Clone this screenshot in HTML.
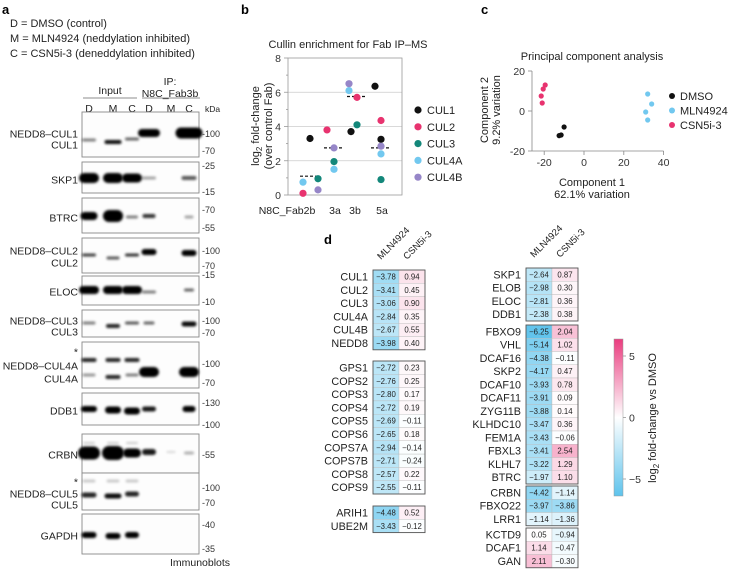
<!DOCTYPE html>
<html><head><meta charset="utf-8">
<style>
html,body{margin:0;padding:0;background:#fff;}
svg{display:block;font-family:"Liberation Sans",sans-serif;}
</style></head>
<body>
<svg id="fig" width="729" height="569" viewBox="0 0 729 569" xmlns="http://www.w3.org/2000/svg">
<defs>
<filter id="blur1" x="-50%" y="-100%" width="200%" height="300%"><feGaussianBlur stdDeviation="1.4"/></filter>
<linearGradient id="cbar" x1="0" y1="0" x2="0" y2="1">
<stop offset="0" stop-color="#ea3d7f"/><stop offset="0.5" stop-color="#ffffff"/><stop offset="1" stop-color="#5ec3ec"/>
</linearGradient>
</defs>
<text x="2" y="14" font-size="13" font-weight="bold">a</text>
<text x="241" y="14" font-size="13" font-weight="bold">b</text>
<text x="481" y="14" font-size="13" font-weight="bold">c</text>
<text x="324" y="244" font-size="13" font-weight="bold">d</text>

<g font-size="11" fill="#222">
<text x="10" y="27">D = DMSO (control)</text>
<text x="10" y="42">M = MLN4924 (neddylation inhibited)</text>
<text x="10" y="57">C = CSN5i-3 (deneddylation inhibited)</text>
</g>

<g id="blots"></g>
<g id="chartB"></g>
<g id="chartC"></g>
<g id="heatD"></g>
</svg>
<script>
const NS='http://www.w3.org/2000/svg';
function mk(tag,attrs,parent,txt){const e=document.createElementNS(NS,tag);for(const k in attrs)e.setAttribute(k,attrs[k]);if(txt!==undefined)e.textContent=txt;parent.appendChild(e);return e;}

/* ---------------- Panel a: blots ---------------- */
const blotG=document.getElementById('blots');
const laneX=[89,113,132,149,171,189];
const laneLetters=['D','M','C','D','M','C'];
laneLetters.forEach((l,i)=>{const t=mk('text',{x:laneX[i],y:112,'font-size':10.5,'text-anchor':'middle',fill:'#222'},blotG,l);

});
mk('text',{x:110,y:94,'font-size':10.5,'text-anchor':'middle',fill:'#222'},blotG,'Input');
mk('line',{x1:83,y1:98,x2:137,y2:98,stroke:'#666','stroke-width':0.8},blotG);
mk('text',{x:170,y:85,'font-size':10.5,'text-anchor':'middle',fill:'#222'},blotG,'IP:');
mk('text',{x:170,y:97,'font-size':10.5,'text-anchor':'middle',fill:'#222'},blotG,'N8C_Fab3b');
mk('line',{x1:142,y1:98,x2:200,y2:98,stroke:'#666','stroke-width':0.8},blotG);
mk('text',{x:205,y:112,'font-size':8.5,fill:'#222'},blotG,'kDa');
mk('text',{x:200,y:566,'font-size':10.5,'text-anchor':'middle',fill:'#222'},blotG,'Immunoblots');
const blotPanels=[
 {t:112,b:157,lab:[['NEDD8–CUL1',134],['CUL1',145]],kda:[['-100',134],['-70',151]],
  bands:[[0,140,14,3,0.5],[1,142,17,4,0.95],[2,139,14,3,0.6],[3,133,22,8,1],[5,133,27,11,1]]},
 {t:162,b:193,lab:[['SKP1',180]],kda:[['-25',166],['-15',192]],
  bands:[[0,178,20,10,1],[1,178,20,10,1],[2,178,20,9,1],[3,178,14,3,0.35],[5,178,15,4,0.65]]},
 {t:198,b:233,lab:[['BTRC',218]],kda:[['-70',210],['-55',228]],
  bands:[[0,216,17,8,1],[1,216,20,12,1],[2,217,12,3,0.5],[3,216,13,4,0.8],[5,217,9,3,0.35]]},
 {t:238,b:273,lab:[['NEDD8–CUL2',251],['CUL2',263]],kda:[['-100',251],['-70',266]],
  bands:[[0,255,14,3,0.75],[1,258,13,3,0.65],[2,255,14,3,0.8],[3,252,15,6,1],[5,253,15,6,1]]},
 {t:276,b:305,lab:[['ELOC',292]],kda:[['-15',275],['-10',302]],
  bands:[[0,290,20,8,1],[1,290,20,8,1],[2,290,20,8,1],[3,292,14,3,0.5],[5,290,10,3,0.6]]},
 {t:310,b:337,lab:[['NEDD8–CUL3',321],['CUL3',332]],kda:[['-100',321],['-70',333]],
  bands:[[0,323,13,3,0.5],[1,326,14,4,0.85],[2,323,14,3,0.65],[3,323,11,3,0.6],[5,324,15,5,0.95]]},
 {t:342,b:388,lab:[['*',352],['NEDD8–CUL4A',366],['CUL4A',379]],kda:[['-100',364],['-70',383]],
  bands:[[0,360,15,4,0.85],[1,360,15,4,0.85],[2,360,15,4,0.85],[0,375,13,3,0.4],[1,377,15,4,0.85],[2,375,13,3,0.5],[3,372,20,10,1],[5,372,20,10,1]]},
 {t:393,b:425,lab:[['DDB1',411]],kda:[['-130',403],['-100',425]],
  bands:[[0,409,16,6,1],[1,410,16,7,1],[2,411,16,7,1],[3,409,14,5,0.9],[5,409,13,6,1]]},
 {t:434,b:473,lab:[['CRBN',455]],kda:[['-55',455]],
  bands:[[0,443,12,2,0.2],[1,443,12,2,0.2],[2,443,12,2,0.2],[0,453,22,13,1],[1,453,22,14,1],[2,453,18,9,1],[3,452,14,6,0.9],[4,452,9,2,0.15],[5,453,10,3,0.3]]},
 {t:473,b:510,lab:[['*',482],['NEDD8–CUL5',494],['CUL5',505]],kda:[['-100',488],['-70',503]],
  bands:[[0,481,13,3,0.2],[1,481,13,3,0.2],[2,481,13,3,0.2],[0,495,15,5,0.85],[1,496,17,5,0.95],[2,494,14,5,0.85]]},
 {t:514,b:554,lab:[['GAPDH',536]],kda:[['-40',525],['-35',549]],
  bands:[[0,535,15,6,1],[1,536,15,6,1],[2,535,14,6,1]]}
];
blotPanels.forEach((p,pi)=>{
  const g=mk('g',{},blotG);
  
  
  mk('rect',{x:82,y:p.t,width:117,height:p.b-p.t,fill:'#fdfdfd',stroke:'#888','stroke-width':0.9},g);
  p.bands.forEach(b=>{mk('rect',{x:laneX[b[0]]-b[2]/2,y:b[1]-b[3]/2,width:b[2],height:b[3],rx:b[3]/2,fill:'#000',opacity:b[4],filter:'url(#blur1)'},g);});
  p.lab.forEach(l=>mk('text',{x:78,y:l[1]+3.5,'font-size':10.5,'text-anchor':'end',fill:'#222'},g,l[0]));
  p.kda.forEach(k=>mk('text',{x:202,y:k[1]+3,'font-size':9,fill:'#333'},g,k[0]));
});

/* ---------------- Panel b ---------------- */
const bCategories=['N8C_Fab2b','3a','3b','5a'];
const bSeries=['CUL1','CUL2','CUL3','CUL4A','CUL4B'];
const bCUL1=[3.3,3.7,6.35,3.25];
const bCUL2=[0.1,3.8,5.7,4.35];
const bCUL3=[0.95,1.95,4.1,0.9];
const bCUL4A=[0.75,1.5,6.1,2.4];
const bCUL4B=[0.3,2.75,6.5,2.85];
const bMedians=[1.1,2.75,5.75,2.75];
const bYTicks=[0,2,4,6,8];
(function(){
 const G=document.getElementById('chartB');
 const colors=['#111','#e8336f','#13877a','#72c8ef','#9686c8'];
 const vals=[bCUL1,bCUL2,bCUL3,bCUL4A,bCUL4B];
 const X0=288,X1=402,Y0=195,Y1=58;
 const y=v=>Y0-(v/8)*(Y0-Y1);
 const cx=[310,334,357,381];
 const jit=[[0,-7,8,-7,8],[17,-7,0,0,0],[18,0,0,-8,-8],[0,0,0,0,0]];
 mk('text',{x:348,y:48,'font-size':11,'text-anchor':'middle',fill:'#222'},G,'Cullin enrichment for Fab IP–MS');
 bYTicks.forEach(t=>{
  if(t>0&&t<8) mk('line',{x1:X0,x2:X1,y1:y(t),y2:y(t),stroke:'#ccc','stroke-width':0.8},G);
  mk('line',{x1:X0-4,x2:X0,y1:y(t),y2:y(t),stroke:'#999','stroke-width':0.8},G);
  const tl=mk('text',{x:X0-7,y:y(t)+4,'font-size':10.5,'text-anchor':'end',fill:'#333'},G,t);
  
  
 });
 mk('rect',{x:X0,y:Y1,width:X1-X0,height:Y0-Y1,fill:'none',stroke:'#999','stroke-width':0.8},G);
 for(let t=1;t<8;t+=2) mk('line',{x1:X0-2,x2:X0,y1:y(t),y2:y(t),stroke:'#999','stroke-width':0.8},G);
 const yl=mk('text',{transform:'translate(259,126) rotate(-90)','font-size':11,'text-anchor':'middle',fill:'#222'},G);
 yl.innerHTML='log<tspan font-size="8" dy="3">2</tspan><tspan dy="-3"> fold-change</tspan>';
 
 
 mk('text',{transform:'translate(272,126) rotate(-90)','font-size':11,'text-anchor':'middle',fill:'#222'},G,'(over control Fab)');
 const lx=[287,335,355,382];
 bCategories.forEach((c,i)=>{
  const t=mk('text',{x:lx[i],y:214,'font-size':10.5,'text-anchor':'middle',fill:'#222'},G,c);
  
  
  const m=mk('line',{x1:cx[i]-10,x2:cx[i]+10,y1:y(bMedians[i]),y2:y(bMedians[i]),stroke:'#111','stroke-width':1.2,'stroke-dasharray':'3,2'},G);
  
  
 });
 vals.forEach((arr,s)=>arr.forEach((v,i)=>{
  const p=mk('circle',{cx:cx[i]+jit[i][s],cy:y(v),r:3.6,fill:colors[s]},G);
  
  
 }));
 bSeries.forEach((s,i)=>{
  const yy=110+i*16.8;
  const g=mk('g',{},G);
  
  
  mk('circle',{cx:418,cy:yy,r:3.6,fill:colors[i]},g);
  mk('text',{x:427,y:yy+4,'font-size':11,fill:'#222'},g,s);
 });
})();

/* ---------------- Panel c ---------------- */
const cGroups=['DMSO','MLN4924','CSN5i-3'];
const cDMSOx=[-10,-11.5,-12.5];
const cDMSOy=[-8,-12,-12.3];
const cMLNx=[32,34,31,32];
const cMLNy=[8.5,3.5,-0.5,-4.5];
const cCSNx=[-19.5,-20.5,-21.5,-21];
const cCSNy=[13,11,7.5,4];
const cXTicks=[-20,0,20,40];
const cYTicks=[-20,0,20];
(function(){
 const G=document.getElementById('chartC');
 const colors=['#111','#72c8ef','#e8336f'];
 const X=v=>584+v*1.99;
 const Y=v=>111-v*2;
 mk('text',{x:592,y:60,'font-size':11,'text-anchor':'middle',fill:'#222'},G,'Principal component analysis');
 mk('line',{x1:532,x2:532,y1:Y(20),y2:Y(-20),stroke:'#888','stroke-width':0.8},G);
 mk('line',{x1:532,x2:X(40),y1:Y(-20),y2:Y(-20),stroke:'#888','stroke-width':0.8},G);
 cYTicks.forEach(t=>{mk('line',{x1:528,x2:532,y1:Y(t),y2:Y(t),stroke:'#888','stroke-width':0.8},G);
  const tl=mk('text',{x:525,y:Y(t)+4,'font-size':10.5,'text-anchor':'end',fill:'#333'},G,t);
  
  });
 cXTicks.forEach(t=>{mk('line',{x1:X(t),x2:X(t),y1:Y(-20),y2:Y(-20)+4,stroke:'#888','stroke-width':0.8},G);
  const tl=mk('text',{x:X(t),y:Y(-20)+15,'font-size':10.5,'text-anchor':'middle',fill:'#333'},G,t);
  
  });
 mk('text',{x:592,y:186,'font-size':11,'text-anchor':'middle',fill:'#222'},G,'Component 1');
 mk('text',{x:592,y:198,'font-size':11,'text-anchor':'middle',fill:'#222'},G,'62.1% variation');
 mk('text',{transform:'translate(488,110) rotate(-90)','font-size':11,'text-anchor':'middle',fill:'#222'},G,'Component 2');
 mk('text',{transform:'translate(500,110) rotate(-90)','font-size':11,'text-anchor':'middle',fill:'#222'},G,'9.2% variation');
 const xs=[cDMSOx,cMLNx,cCSNx], ys=[cDMSOy,cMLNy,cCSNy];
 xs.forEach((arr,g)=>arr.forEach((v,i)=>{
  const p=mk('circle',{cx:X(v),cy:Y(ys[g][i]),r:2.6,fill:colors[g]},G);
  
  
 }));
 cGroups.forEach((s,i)=>{
  const yy=96+i*14.5;
  const g=mk('g',{},G);
  
  
  mk('circle',{cx:672,cy:yy,r:3,fill:colors[i]},g);
  mk('text',{x:680,y:yy+4,'font-size':11,fill:'#222'},g,s);
 });
})();

/* ---------------- Panel d ---------------- */
const dLeftGroups=[
 ['CUL1','CUL2','CUL3','CUL4A','CUL4B','NEDD8'],
 ['GPS1','COPS2','COPS3','COPS4','COPS5','COPS6','COPS7A','COPS7B','COPS8','COPS9'],
 ['ARIH1','UBE2M']];
const dLeftMLN=[[-3.78,-3.41,-3.06,-2.84,-2.67,-3.98],[-2.72,-2.76,-2.80,-2.72,-2.69,-2.65,-2.94,-2.71,-2.57,-2.55],[-4.48,-3.43]];
const dLeftCSN=[[0.94,0.45,0.90,0.35,0.55,0.40],[0.23,0.25,0.17,0.19,-0.11,0.18,-0.14,-0.24,0.22,-0.11],[0.52,-0.12]];
const dRightGroups=[
 ['SKP1','ELOB','ELOC','DDB1'],
 ['FBXO9','VHL','DCAF16','SKP2','DCAF10','DCAF11','ZYG11B','KLHDC10','FEM1A','FBXL3','KLHL7','BTRC'],
 ['CRBN','FBXO22','LRR1'],
 ['KCTD9','DCAF1','GAN']];
const dRightMLN=[[-2.64,-2.98,-2.81,-2.38],[-6.25,-5.14,-4.38,-4.17,-3.93,-3.91,-3.88,-3.47,-3.43,-3.41,-3.22,-1.97],[-4.42,-3.97,-1.14],[0.05,1.14,2.11]];
const dRightCSN=[[0.87,0.30,0.36,0.38],[2.04,1.02,-0.11,0.47,0.78,0.09,0.14,0.36,-0.06,2.54,1.29,1.10],[-1.14,-3.86,-1.36],[-0.94,-0.47,-0.30]];
const dColumns=['MLN4924','CSN5i-3'];
const dColorTicks=[5,0,-5];
(function(){
 const G=document.getElementById('heatD');
 function col(v){
  const t=Math.min(1,Math.abs(v)/6.4);
  const c=v<0?[94,195,236]:[234,61,127];
  const r=Math.round(255+(c[0]-255)*t),g=Math.round(255+(c[1]-255)*t),b=Math.round(255+(c[2]-255)*t);
  return `rgb(${r},${g},${b})`;
 }
 function fmt(v){return (v<0?'−':'')+Math.abs(v).toFixed(2);}
 function block(groups,mln,csn,x0,labelX,tops,cw,rh,side){
  groups.forEach((names,gi)=>{
   const top=tops[gi];
   names.forEach((n,i)=>{
    const yy=top+i*rh;
    const lab=mk('text',{x:labelX,y:yy+rh/2+3.8,'font-size':10.8,'text-anchor':'end',fill:'#222'},G,n);
    
    
    [mln[gi][i],csn[gi][i]].forEach((v,c)=>{
     const r=mk('rect',{x:x0+c*cw,y:yy,width:cw,height:rh,fill:col(v),stroke:'#bbb','stroke-width':0.4},G);
     
     
     mk('text',{x:x0+c*cw+cw/2,y:yy+rh/2+2.8,'font-size':7.8,'text-anchor':'middle',fill:'#222'},G,fmt(v));
    });
   });
   mk('rect',{x:x0,y:top,width:2*cw,height:names.length*rh,fill:'none',stroke:'#555','stroke-width':0.9},G);
  });
  dColumns.forEach((c,i)=>{
   const hx=x0+i*cw+8, hy=tops[0]-10;
   const t=mk('text',{transform:`translate(${hx},${hy}) rotate(-45)`,'font-size':9.5,fill:'#222'},G,c);
   
   
  });
 }
 block(dLeftGroups,dLeftMLN,dLeftCSN,373,368,[270,361,506],26,13.3,'left');
 block(dRightGroups,dRightMLN,dRightCSN,526,521,[268,325,486,528],26,13.25,'right');
 const cb=mk('rect',{x:614,y:339,width:9,height:157,fill:'url(#cbar)',stroke:'#999','stroke-width':0.5},G);
 
 
 const cy=v=>417.5-v*12.3;
 dColorTicks.forEach(t=>{
  mk('line',{x1:623,x2:626,y1:cy(t),y2:cy(t),stroke:'#999','stroke-width':0.8},G);
  const tl=mk('text',{x:629,y:cy(t)+4,'font-size':10.5,fill:'#333'},G,t<0?'−'+Math.abs(t):t);
  
  
 });
 const cl=mk('text',{transform:'translate(656,418) rotate(-90)','font-size':11,'text-anchor':'middle',fill:'#222'},G);
 cl.innerHTML='log<tspan font-size="8" dy="3">2</tspan><tspan dy="-3"> fold-change vs DMSO</tspan>';
 
 
})();
</script>
</body></html>
